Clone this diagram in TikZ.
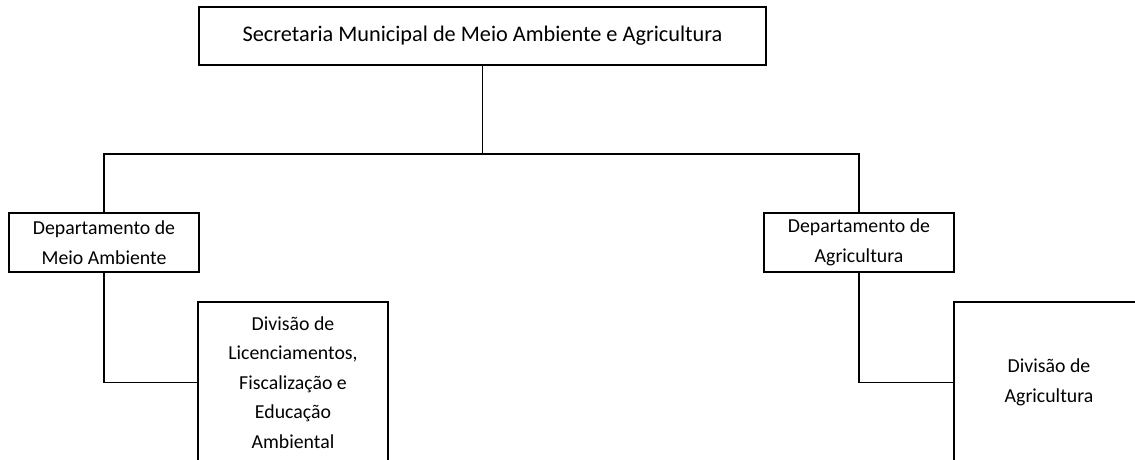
\documentclass[tikz,border=0pt]{standalone}
\usepackage{fontspec}
\setmainfont{Carlito}
\begin{document}
\begin{tikzpicture}[x=1pt,y=-1pt,
  orgbox/.style={draw=black, line width=1.4pt, fill=white, inner sep=0pt, align=center,
    font=\fontsize{19.8}{29.5}\selectfont, text=black, minimum width=190pt},
  link/.style={draw=black, line width=1.3pt}]
\useasboundingbox (0,0) rectangle (1135,459);
\clip (0,0) rectangle (1135,459);
\fill[white] (0,0) rectangle (1135,459);
\node[orgbox, minimum width=567pt, minimum height=58pt, font=\fontsize{22.3}{29.5}\selectfont] (top) at (482.5,36) {Secretaria Municipal de Meio Ambiente e Agricultura};
\node[orgbox, minimum height=59pt] (ld) at (104,242.5) {Departamento de\\Meio Ambiente};
\node[orgbox, minimum height=59pt] (rd) at (859,242.5) {Departamento de\\Agricultura};
\node[orgbox, minimum height=161pt] (lc) at (293,382.5) {Divisão de\\Licenciamentos,\\Fiscalização e\\Educação\\Ambiental};
\node[orgbox, minimum height=161pt] (rc) at (1049,382.5) {Divisão de\\Agricultura};
\coordinate (bus) at (482.5,154);
\draw[link] (top.south) -- (bus);
\draw[link] (ld.north) |- (bus) -| (rd.north);
\draw[link] (ld.south) |- (lc.west);
\draw[link] (rd.south) |- (rc.west);
\end{tikzpicture}
\end{document}
